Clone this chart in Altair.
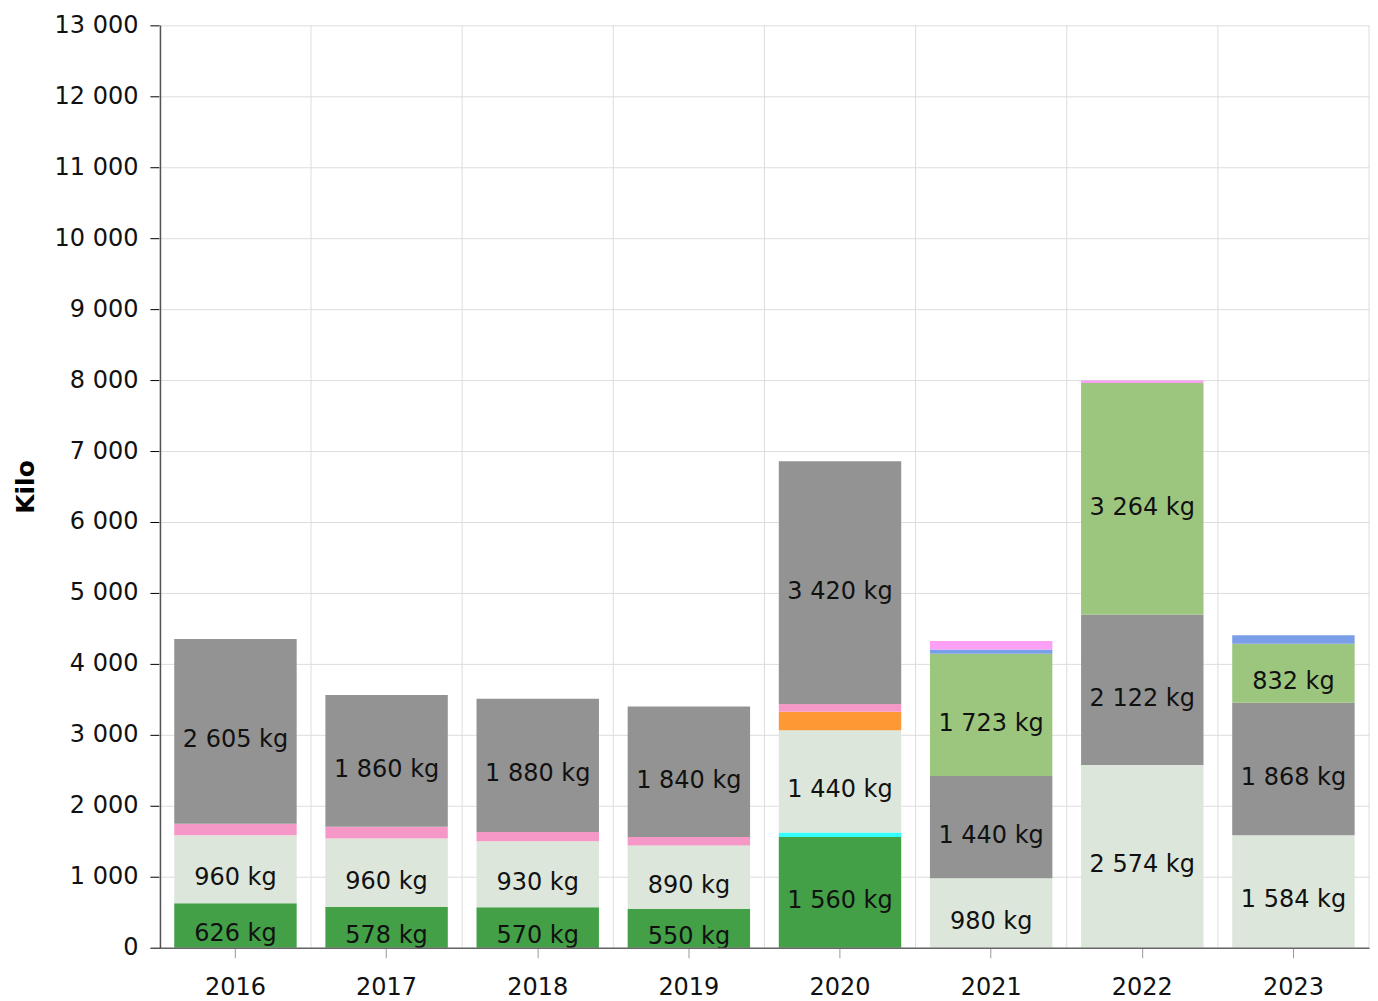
import altair as alt
import pandas as pd

years = ["2016", "2017", "2018", "2019", "2020", "2021", "2022", "2023"]

categories = ["Grønn", "Turkis", "Lys", "Oransje", "Rosa", "Grå", "Lysegrønn", "Blå", "Fiolett"]
colors = ["#43a047", "#33ffff", "#dce6da", "#fd9934", "#f598c8", "#939393", "#9cc67e", "#7b9ee8", "#fba0f5"]

gronn     = [626, 578, 570, 550, 1560, 0, 0, 0]
turkis    = [0, 0, 0, 0, 65, 0, 0, 0]
lys       = [960, 960, 930, 890, 1440, 980, 2574, 1584]
oransje   = [0, 0, 0, 0, 260, 0, 0, 0]
rosa      = [160, 165, 130, 120, 110, 0, 0, 0]
gra       = [2605, 1860, 1880, 1840, 3420, 1440, 2122, 1868]
lysegronn = [0, 0, 0, 0, 0, 1723, 3264, 832]
bla       = [0, 0, 0, 0, 0, 60, 0, 120]
fiolett   = [0, 0, 0, 0, 0, 120, 35, 0]

series = [gronn, turkis, lys, oransje, rosa, gra, lysegronn, bla, fiolett]

rows = []
for ci, (cat, vals) in enumerate(zip(categories, series)):
    for y, v in zip(years, vals):
        if v > 0:
            rows.append({
                "year": y,
                "cat": cat,
                "idx": ci,
                "kg": v,
                "label": f"{v:,}".replace(",", " ") + " kg",
            })
df = pd.DataFrame(rows)
years_df = pd.DataFrame({"year": years})
last_df = pd.DataFrame({"year": years[-1:]})

FONT = "DejaVu Sans"
FS = 24
W = 1210
PI = 0.19
STEP = W / len(years)
HALF_GAP = PI * STEP / 2

xscale = alt.Scale(paddingInner=PI, paddingOuter=PI / 2)
yscale = alt.Scale(domain=[0, 13000])

base = alt.Chart(df)

vgrid = alt.Chart(years_df).mark_rule(color="#dddddd", strokeWidth=1, xOffset=-HALF_GAP).encode(
    x=alt.X("year:N", scale=xscale, sort=years, bandPosition=0),
)
vgrid_end = alt.Chart(last_df).mark_rule(color="#dddddd", strokeWidth=1, xOffset=HALF_GAP).encode(
    x=alt.X("year:N", scale=xscale, sort=years, bandPosition=1),
)

bars = base.mark_bar().encode(
    x=alt.X("year:N", scale=xscale, sort=years,
            axis=alt.Axis(title=None, orient="bottom", grid=False, labelAngle=0,
                          labelFontSize=FS, labelFont=FONT, labelColor="#111",
                          labelPadding=18, tickSize=10, tickColor="#999",
                          domainColor="#666", domainWidth=1.5, zindex=1)),
    y=alt.Y("kg:Q", stack="zero", scale=yscale,
            axis=alt.Axis(title="Kilo", values=list(range(0, 13001, 1000)),
                          labelExpr="replace(format(datum.value, ','), regexp(',', 'g'), ' ')",
                          labelFontSize=FS, labelFont=FONT, labelColor="#111",
                          labelPadding=12, tickSize=10, tickColor="#000",
                          domainColor="#000", domainWidth=1.5,
                          titleFont=FONT, titleFontSize=25, titleFontWeight="bold",
                          titleColor="#000", titlePadding=16,
                          grid=True, gridColor="#dddddd", gridWidth=1)),
    color=alt.Color("cat:N", scale=alt.Scale(domain=categories, range=colors), legend=None),
    order=alt.Order("idx:Q", sort="ascending"),
)

texts = base.transform_stack(
    stack="kg", groupby=["year"], sort=[alt.SortField("idx", order="ascending")],
    as_=["y0", "y1"]
).transform_calculate(
    mid="(datum.y0 + datum.y1) / 2"
).transform_filter(
    "datum.kg >= 400"
).mark_text(font=FONT, fontSize=FS, color="#111", baseline="middle", dy=9).encode(
    x=alt.X("year:N", scale=xscale, sort=years),
    y=alt.Y("mid:Q", scale=yscale),
    text="label:N",
)

chart = alt.layer(bars, vgrid, vgrid_end, texts).properties(
    width=W, height=923,
    padding={"left": 5, "top": 5, "right": 0, "bottom": 0},
).configure_view(stroke=None)

chart.save("out.html", embed_options={"renderer": "svg", "actions": False})
